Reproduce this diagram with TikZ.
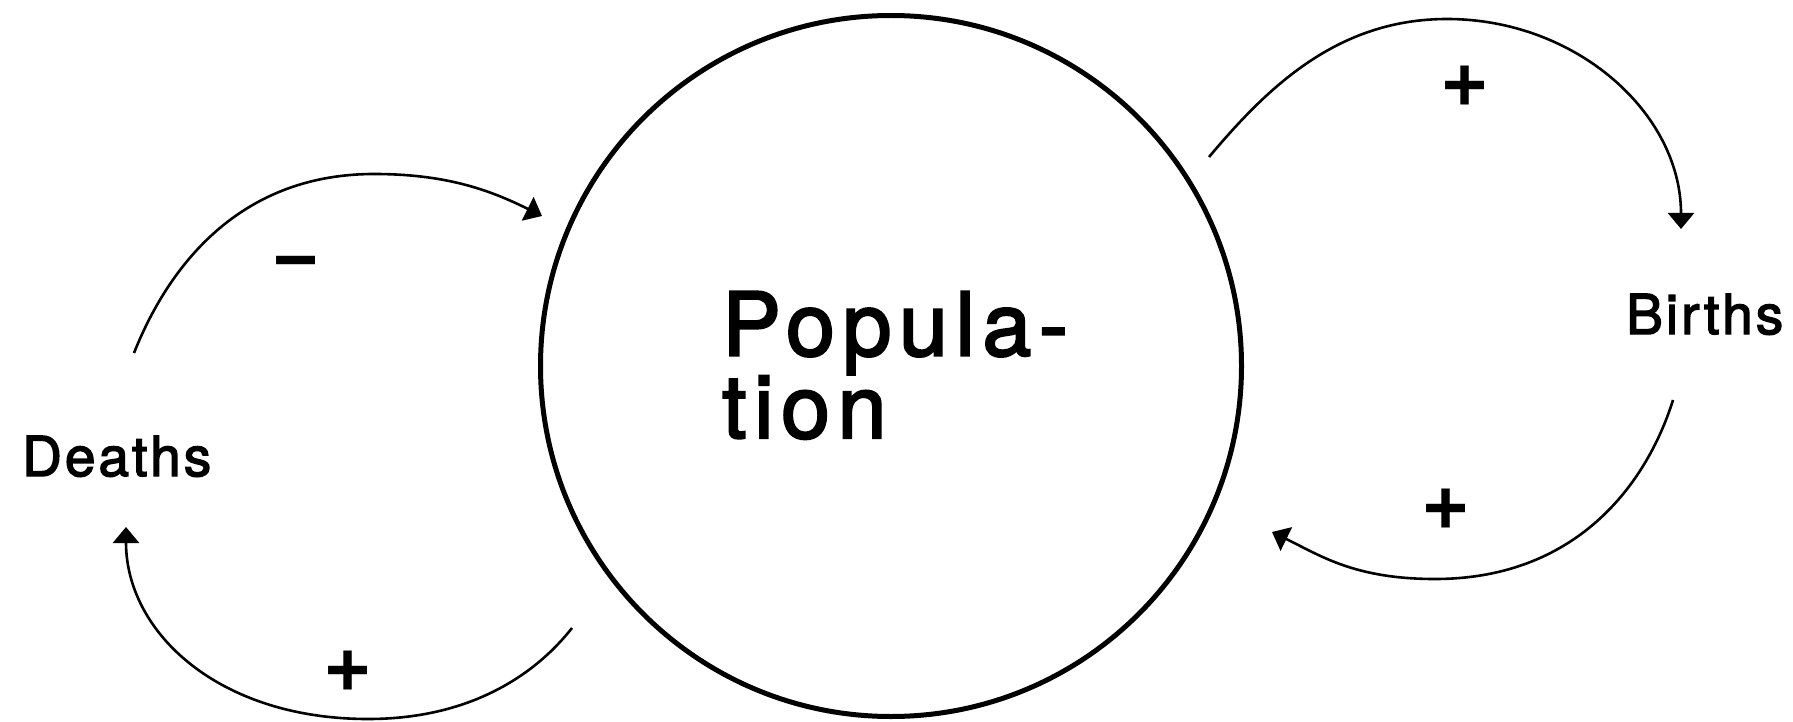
\documentclass[tikz,border=0pt]{standalone}
\usepackage{fontspec}
\setmainfont{TeX Gyre Heros}
\newfontfamily\popfont[LetterSpace=8.5,FakeBold=2.5]{TeX Gyre Heros}
\newfontfamily\labfont[LetterSpace=5.5,FakeBold=2.5]{TeX Gyre Heros}
\newfontfamily\signfont{TeX Gyre Heros}
\usetikzlibrary{arrows.meta}
\begin{document}
\begin{tikzpicture}[x=1pt,y=-1pt,
  link/.style={line width=2.6pt,-{Triangle[length=16pt,width=26pt]}},
  sign/.style={font=\signfont\bfseries\fontsize{84}{84}\selectfont,inner sep=0pt,anchor=center},
  lab/.style={font=\labfont\fontsize{55}{60}\selectfont,inner sep=0pt,anchor=base west},
  stock/.style={circle,draw,line width=5pt,minimum size=701pt,inner sep=0pt}]
\useasboundingbox (0,0) rectangle (1793,722);
\node[stock] (pop) at (891,366) {};
\node[font=\popfont\fontsize{88}{80}\selectfont,align=left,inner sep=0pt,anchor=base west] (poptext) at (722,438) {Popula-\\tion};
\node[lab] (deaths) at (22,476) {Deaths};
\node[lab] (births) at (1626,334) {Births};
% connector end points
\coordinate (d1s) at (134,353);
\coordinate (d1e) at (542,216);
\coordinate (d2s) at (572,628);
\coordinate (d2e) at (126,527);
\coordinate (b1s) at (1209,157);
\coordinate (b1e) at (1681,229);
\coordinate (b2s) at (1673,400);
\coordinate (b2e) at (1272,532);
\draw[link] (d1s) .. controls (171,260) and (244,174) .. (374,174)
  .. controls (444,174) and (488,189) .. (d1e);
\draw[link] (d2s) .. controls (535,675) and (470,719) .. (368,719)
  .. controls (218,719) and (126,632) .. (d2e);
\draw[link] (b1s) .. controls (1267,88) and (1337,19) .. (1447,19)
  .. controls (1576,19) and (1681,113) .. (b1e);
\draw[link] (b2s) .. controls (1646,486) and (1575,579) .. (1435,579)
  .. controls (1355,579) and (1321,556) .. (b2e);
\node[sign] (s1) at (1465,86) {+};
\node[sign] (s2) at (296,269) {−};
\node[sign] (s3) at (1446,509) {+};
\node[sign] (s4) at (348,671) {+};
\end{tikzpicture}
\end{document}
